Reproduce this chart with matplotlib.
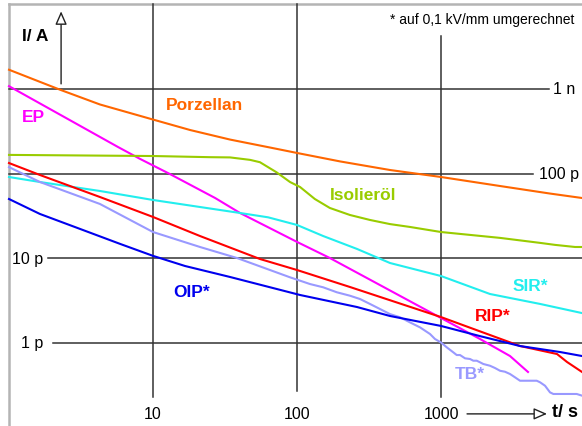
import matplotlib
matplotlib.use("Agg")
import matplotlib.pyplot as plt

plt.rcParams['font.family'] = ['Liberation Sans', 'DejaVu Sans']

# ---------------- data (t in s, I in A) ----------------
porz_t = [1, 2.26, 4.28, 10, 18.1, 34.3, 64.9, 100, 199, 442, 1000, 2570, 5713, 9530]
porz_i = [1.69e-9, 9.81e-10, 6.56e-10, 4.35e-10, 3.27e-10, 2.52e-10, 2.03e-10, 1.75e-10,
          1.39e-10, 1.10e-10, 9.09e-11, 7.11e-11, 5.79e-11, 5.13e-11]

ep_t = [1, 5.71, 8.12, 13.1, 27.0, 40.2, 100, 169, 1000, 1866, 3013, 4018]
ep_i = [1.08e-9, 2.06e-10, 1.49e-10, 9.86e-11, 5.13e-11, 3.41e-11, 1.55e-11, 1.0e-11,
        1.95e-12, 1.1e-12, 6.92e-13, 4.48e-13]

oel_t = [1, 10, 24.9, 34.3, 47.2, 55.3, 72.3, 89.4, 105, 133, 169, 233, 321, 442, 609,
         1000, 2570, 4870, 6190, 8530, 9530]
oel_i = [1.66e-10, 1.61e-10, 1.56e-10, 1.55e-10, 1.45e-10, 1.36e-10, 1.03e-10, 7.93e-11,
         6.92e-11, 4.99e-11, 3.91e-11, 3.23e-11, 2.82e-11, 2.52e-11, 2.33e-11, 2.03e-11,
         1.73e-11, 1.51e-11, 1.43e-11, 1.35e-11, 1.35e-11]

sir_t = [1, 1.64, 4.28, 10, 40.2, 63.0, 100, 152, 261, 442, 1000, 2188, 4875, 9530]
sir_i = [9.09e-11, 7.93e-11, 6.21e-11, 4.86e-11, 3.41e-11, 3.03e-11, 2.46e-11, 1.82e-11,
         1.28e-11, 8.73e-12, 6.12e-12, 3.75e-12, 2.86e-12, 2.23e-12]

rip_t = [1, 1.64, 4.28, 10, 21.2, 55.3, 100, 233, 1000, 3537, 6390, 7500, 9530]
rip_i = [1.33e-10, 9.60e-11, 5.27e-11, 3.06e-11, 1.82e-11, 9.73e-12, 7.21e-12, 4.54e-12,
         2.0e-12, 9.09e-13, 7.31e-13, 5.88e-13, 4.48e-13]

tb_t = [1, 1.64, 4.28, 10, 21.2, 38.3, 89.4, 105, 123, 152, 189, 233, 274, 321, 377, 442,
        519, 609, 715, 839, 908, 1000, 1096, 1217, 1285, 1355, 1468, 1590, 1676, 1770,
        1866, 1966, 2188, 2371, 2570, 2781, 3013, 3266, 3537, 4620, 4875, 5275, 5713,
        6026, 8755, 9530]
tb_i = [1.19e-10, 7.93e-11, 4.36e-11, 2.03e-11, 1.35e-11, 1.0e-11, 5.91e-12, 5.39e-12,
        4.92e-12, 4.50e-12, 3.93e-12, 3.58e-12, 3.27e-12, 2.86e-12, 2.49e-12, 2.17e-12,
        1.99e-12, 1.73e-12, 1.51e-12, 1.26e-12, 1.10e-12, 1.0e-12, 8.77e-13, 7.65e-13,
        7.11e-13, 7.11e-13, 6.50e-13, 6.38e-13, 6.09e-13, 6.09e-13, 5.83e-13, 5.57e-13,
        5.31e-13, 4.99e-13, 4.63e-13, 4.51e-13, 4.24e-13, 3.87e-13, 3.53e-13, 3.53e-13,
        3.38e-13, 3.08e-13, 2.57e-13, 2.46e-13, 2.46e-13, 2.35e-13]

oip_t = [1, 1.64, 3.11, 5.90, 10, 16.7, 34.3, 105, 261, 442, 1000, 1866, 3537, 6700, 9530]
oip_i = [4.99e-11, 3.32e-11, 2.21e-11, 1.47e-11, 1.06e-11, 8.04e-12, 5.96e-12, 3.65e-12,
         2.63e-12, 2.06e-12, 1.57e-12, 1.19e-12, 9.09e-13, 7.72e-13, 6.92e-13]

x_ticks = [10, 100, 1000]
x_tick_labels = ["10", "100", "1000"]
y_grid = [1e-12, 1e-11, 1e-10, 1e-9]
y_tick_labels = ["1 p", "10 p", "100 p", "1 n"]

series = [
    ("Porzellan", porz_t, porz_i, "#FF6600"),
    ("EP", ep_t, ep_i, "#FF00FF"),
    ("Isolieröl", oel_t, oel_i, "#99CC00"),
    ("SIR*", sir_t, sir_i, "#22EEEE"),
    ("RIP*", rip_t, rip_i, "#FF0000"),
    ("TB*", tb_t, tb_i, "#9999FF"),
    ("OIP*", oip_t, oip_i, "#0000EE"),
]

# ---------------- figure ----------------
W, H = 582, 427
fig = plt.figure(figsize=(W / 100, H / 100), dpi=100)
ax = fig.add_axes([0, 0, 1, 1])
ax.set_xscale("log")
ax.set_yscale("log")
ax.set_xlim(10 ** -0.0625, 10 ** 3.979)
ax.set_ylim(10 ** -12.988, 10 ** -7.935)
ax.axis("off")

gc = "#333333"
# frame (light gray) at t=1 and I=10 n
ax.plot([1, 1], [1e-13, 1e-8], color="#b4b4b4", lw=1.8, zorder=1)
ax.plot([1, 1e4], [1e-8, 1e-8], color="#b4b4b4", lw=1.8, zorder=1)

# vertical grid lines
ax.plot([10, 10], [1e-8, 2.26e-13], color=gc, lw=1.1, zorder=1)
ax.plot([100, 100], [1e-8, 2.67e-13], color=gc, lw=1.1, zorder=1)
ax.plot([1000, 1000], [4.24e-9, 2.26e-13], color=gc, lw=1.1, zorder=1)
# horizontal grid lines
ax.plot([1, 5623], [y_grid[3], y_grid[3]], color=gc, lw=1.1, zorder=1)
ax.plot([1, 4355], [y_grid[2], y_grid[2]], color=gc, lw=1.1, zorder=1)
ax.plot([1.87, 1e4], [y_grid[1], y_grid[1]], color=gc, lw=1.1, zorder=1)
ax.plot([2.02, 1e4], [y_grid[0], y_grid[0]], color=gc, lw=1.1, zorder=1)

for name, t, i, c in series:
    ax.plot(t, i, color=c, lw=1.5, zorder=3, solid_joinstyle="round")

# curve labels
lab_pos = {
    "Porzellan": (12.3, 6.47e-10),
    "EP": (1.23, 4.67e-10),
    "Isolieröl": (169, 5.57e-11),
    "SIR*": (3162, 4.79e-12),
    "RIP*": (1722, 2.11e-12),
    "OIP*": (13.8, 4.06e-12),
    "TB*": (1250, 4.24e-13),
}
for name, t, i, c in series:
    x, y = lab_pos[name]
    ax.text(x, y, name, color=c, fontsize=12.5, fontweight="bold",
            ha="left", va="center", zorder=4)

# y tick labels
ax.text(5997, y_grid[3], y_tick_labels[3], fontsize=11.5, ha="left", va="center")
ax.text(4797, y_grid[2], y_tick_labels[2], fontsize=11.5, ha="left", va="center")
ax.text(1.72, y_grid[1], y_tick_labels[1], fontsize=11.5, ha="right", va="center")
ax.text(1.72, y_grid[0], y_tick_labels[0], fontsize=11.5, ha="right", va="center")

# x tick labels
for xv, lab in zip(x_ticks, x_tick_labels):
    ax.text(xv, 1.43e-13, lab, fontsize=11.5, ha="center", va="center")

# axis titles & arrows
ax.text(1.23, 4.35e-9, "I/ A", fontsize=12.5, fontweight="bold", ha="left", va="center")
ax.annotate("", xy=(2.30, 8.3e-9), xytext=(2.30, 1.15e-9),
            arrowprops=dict(arrowstyle="-|>,head_length=0.8,head_width=0.35",
                            fc="white", ec="#222222", lw=1.0, shrinkA=0, shrinkB=0))
ax.text(5900, 1.51e-13, "t/ s", fontsize=13, fontweight="bold", ha="left", va="center")
ax.annotate("", xy=(5445, 1.43e-13), xytext=(1516, 1.43e-13),
            arrowprops=dict(arrowstyle="-|>,head_length=0.8,head_width=0.35",
                            fc="white", ec="#222222", lw=1.0, shrinkA=0, shrinkB=0))

ax.text(8390, 6.73e-9, "* auf 0,1 kV/mm umgerechnet", fontsize=10, ha="right", va="center")

fig.savefig("out.png", dpi=100)
